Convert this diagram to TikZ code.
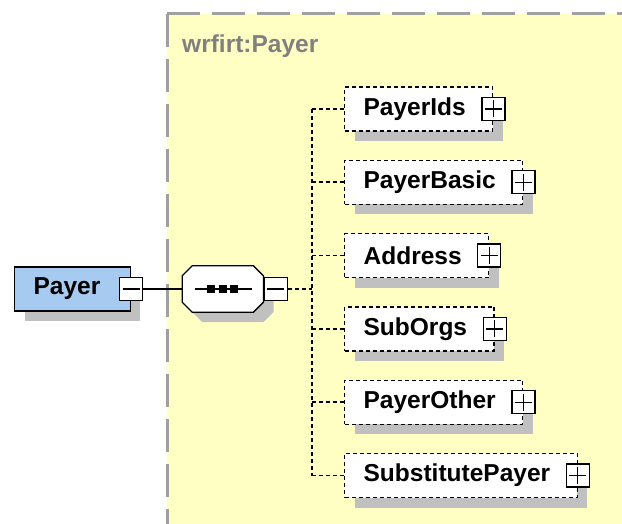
\documentclass[tikz,border=0pt]{standalone}
\usepackage{fontspec}
\setmainfont{Liberation Sans}
\usetikzlibrary{calc, positioning, shadows}
\definecolor{schemayellow}{RGB}{255, 255, 196}
\definecolor{bordergray}{RGB}{160, 160, 160}
\definecolor{labelgray}{RGB}{128, 128, 128}
\definecolor{shadowgray}{RGB}{192, 192, 192}
\definecolor{elemblue}{RGB}{166, 202, 240}
\tikzstyle{elemText} = [font=\fontsize{24.5}{28}\selectfont\bfseries, text=black]
\tikzstyle{grayShadow} = [drop shadow={shadow xshift=10pt, shadow yshift=-10pt,
	fill=shadowgray, opacity=1}]
\tikzstyle{baseBox} = [shape=rectangle, elemText, inner xsep=19pt, inner ysep=4pt,
	minimum height=44pt, line width=1.3pt, grayShadow]
\tikzstyle{RootBox} = [baseBox, draw=black, fill=elemblue,
	execute at end node={\hspace*{11pt}}]
\tikzstyle{ChildBox} = [baseBox, draw=black, fill=white, dash pattern=on 4pt off 3pt,
	execute at end node={\hspace*{8pt}}]
\tikzstyle{seqBox} = [shape=rectangle, minimum width=80pt, minimum height=45pt,
	inner sep=0pt, outer sep=0.65pt]
\tikzstyle{seqShape} = [draw=black, fill=white, line width=1.3pt, grayShadow]
\tikzstyle{toggleBox} = [shape=rectangle, draw=black, fill=white, line width=1.3pt,
	minimum size=23pt, inner sep=0pt]
\tikzstyle{minusBox} = [toggleBox, path picture={
	\draw[line width=1.3pt] ($(path picture bounding box.west)+(3pt,0)$)
		-- ($(path picture bounding box.east)+(-3pt,0)$);}]
\tikzstyle{plusBox} = [toggleBox, path picture={
	\draw[line width=1.3pt] ($(path picture bounding box.west)+(3pt,0)$)
		-- ($(path picture bounding box.east)+(-3pt,0)$);
	\draw[line width=1.3pt] ($(path picture bounding box.north)+(0,-3pt)$)
		-- ($(path picture bounding box.south)+(0,3pt)$);}]
\tikzstyle{solidLine} = [line width=1.6pt, draw=black]
\tikzstyle{treeLine} = [line width=1.8pt, draw=black, dash pattern=on 4pt off 3pt]
\tikzstyle{schemaBorder} = [line width=3pt, draw=bordergray, dash pattern=on 33pt off 12pt]

\begin{document}
\begin{tikzpicture}[x=1pt, y=1pt]
  \useasboundingbox (0,0) rectangle (622,-524);

  % complex type area
  \fill [schemayellow] (167,-14) rectangle (622,-524);
  \draw [schemaBorder] (167,-14) -- (622,-14);
  \draw [schemaBorder] (167,-14) -- (167,-524);
  \node (TYPE) [elemText, text=labelgray, anchor=base west, inner sep=0pt]
    at (182,-53) {wrfirt:Payer};

  \node (PAYER)  [RootBox, anchor=west] at (14,-289) {Payer};
  \node (PMINUS) [minusBox] at (PAYER.east) {};
  \node (SEQ)    [seqBox, right=39pt of PMINUS] {};
  \path [seqShape] ($(SEQ.north west)+(10,0)$) -- ($(SEQ.north east)+(-10,0)$)
    -- ($(SEQ.north east)+(0,-10)$) -- ($(SEQ.south east)+(0,10)$)
    -- ($(SEQ.south east)+(-10,0)$) -- ($(SEQ.south west)+(10,0)$)
    -- ($(SEQ.south west)+(0,10)$) -- ($(SEQ.north west)+(0,-10)$) -- cycle;
  \node (SMINUS) [minusBox, right=0pt of SEQ] {};
  \coordinate (TRUNK) at ($(SMINUS.east)+(24pt,0)$);

  \node (IDS)   [ChildBox, anchor=west] at (344,-109) {PayerIds};
  \node (BASIC) [ChildBox, below=28pt of IDS.south west, anchor=north west] {PayerBasic};
  \node (ADDR)  [ChildBox, below=28pt of BASIC.south west, anchor=north west] {Address};
  \node (ORGS)  [ChildBox, below=28pt of ADDR.south west, anchor=north west] {SubOrgs};
  \node (OTHER) [ChildBox, below=28pt of ORGS.south west, anchor=north west] {PayerOther};
  \node (SUBST) [ChildBox, below=28pt of OTHER.south west, anchor=north west] {SubstitutePayer};

  \node (IDSPLUS)   [plusBox] at (IDS.east) {};
  \node (BASICPLUS) [plusBox] at (BASIC.east) {};
  \node (ADDRPLUS)  [plusBox] at (ADDR.east) {};
  \node (ORGSPLUS)  [plusBox] at (ORGS.east) {};
  \node (OTHERPLUS) [plusBox] at (OTHER.east) {};
  \node (SUBSTPLUS) [plusBox] at (SUBST.east) {};

  % sequence symbol
  \draw [line width=1.6pt] ($(SEQ.center)+(-28pt,0)$) -- ($(SEQ.center)+(29pt,0)$);
  \fill ($(SEQ.center)+(-15.5pt,-4pt)$) rectangle ++(8pt,8pt);
  \fill ($(SEQ.center)+(-4pt,-4pt)$) rectangle ++(8pt,8pt);
  \fill ($(SEQ.center)+(7.5pt,-4pt)$) rectangle ++(8pt,8pt);

  \draw [solidLine] (PMINUS) -- (SEQ);
  \draw [treeLine] (SMINUS) -- (TRUNK);
  \draw [treeLine] (TRUNK |- IDS.west) -- (TRUNK |- SUBST.west);
  \draw [treeLine] (TRUNK |- IDS.west) -- (IDS);
  \draw [treeLine] (TRUNK |- BASIC.west) -- (BASIC);
  \draw [treeLine] (TRUNK |- ADDR.west) -- (ADDR);
  \draw [treeLine] (TRUNK |- ORGS.west) -- (ORGS);
  \draw [treeLine] (TRUNK |- OTHER.west) -- (OTHER);
  \draw [treeLine] (TRUNK |- SUBST.west) -- (SUBST);

\end{tikzpicture}
\end{document}
